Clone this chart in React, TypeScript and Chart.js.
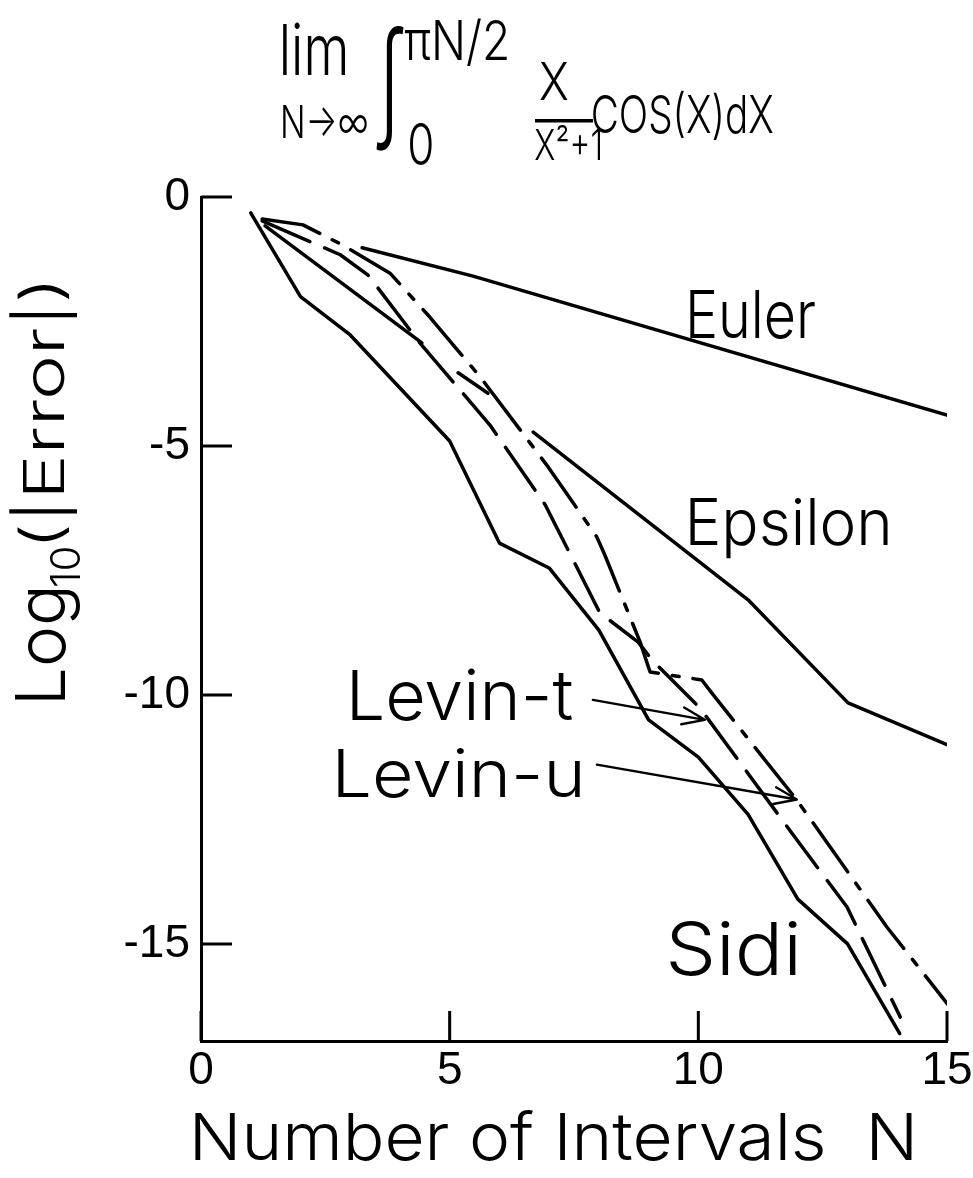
import React, { useEffect, useRef } from 'react';
import { Chart, registerables } from 'chart.js';

Chart.register(...registerables);

const FONT = '"Liberation Sans", Arial, "DejaVu Sans", sans-serif';
const LFONT = 'Inter, "Liberation Sans", "DejaVu Sans", sans-serif';
const LWEIGHT = '300';

// axis ticks
const xTicks = [0, 5, 10, 15];
const yTicks = [0, -5, -10, -15];

// Euler (solid)
const eulerN = [3.24, 5.47, 15.0];
const eulerLog = [-1.02, -1.59, -4.38];

// Epsilon (solid, with gaps where the pen lifted)
const epsilonN = [1.29, 4.44, 4.8, 5.17, 5.77, 6.2, 6.68, 11.0, 13.01, 15.0];
const epsilonLog = [-0.58, -2.93, null, -3.53, -3.94, null, -4.72, -8.09, -10.16, -11.0];

// Levin-t (long dashes)
const levinTN = [1.23, 2.8, 3.36, 4.4, 5.81, 6.92, 8.02, 8.79, 9.07, 10.03, 11.98, 12.99, 14.06];
const levinTLog = [-0.48, -1.16, -1.57, -2.93, -4.58, -6.18, -8.35, -8.94, -9.3, -10.26, -12.91, -14.26, -16.47];

// Levin-u (dash-dot)
const levinUN = [1.23, 2.05, 2.84, 3.8, 4.6, 5.61, 6.98, 7.96, 8.12, 8.83, 9.03, 10.07, 10.3, 11.98, 13.79, 15.02];
const levinULog = [-0.44, -0.56, -0.96, -1.53, -2.41, -3.61, -5.42, -6.83, -7.19, -8.94, -9.54, -9.7, -10.0, -12.11, -14.66, -16.22];

// Sidi (solid)
const sidiN = [1, 2, 3, 5, 6, 7, 8, 9, 10, 11, 12, 13, 14.05];
const sidiLog = [-0.32, -2.0, -2.77, -4.9, -6.95, -7.45, -8.7, -10.5, -11.25, -12.4, -14.1, -15.0, -16.8];

const Y_MIN = -16.95;

// annotation arrows (data units)
const arrowLevinT = { from: [7.88, -10.1], to: [10.13, -10.5] };
const arrowLevinU = { from: [7.96, -11.4], to: [11.98, -12.1] };

function pts(n: number[], v: (number | null)[]) {
  return n.map((x, i) => ({ x, y: v[i] }));
}

function fitText(
  ctx: CanvasRenderingContext2D,
  text: string,
  l: number,
  t: number,
  r: number,
  b: number,
  mode: 'base' | 'ink' = 'base',
  font: string = LFONT,
  weight: string = LWEIGHT
) {
  ctx.save();
  ctx.font = `${weight} 100px ${font}`;
  const m = ctx.measureText(text);
  const asc = m.actualBoundingBoxAscent;
  const desc = m.actualBoundingBoxDescent;
  const bl = m.actualBoundingBoxLeft;
  const br = m.actualBoundingBoxRight;
  const inkW = bl + br;
  const sx = (r - l) / inkW;
  let sy: number;
  let oy: number;
  if (mode === 'ink') {
    sy = (b - t) / (asc + desc);
    oy = t + asc * sy;
  } else {
    sy = (b - t) / asc;
    oy = b;
  }
  ctx.translate(l + bl * sx, oy);
  ctx.scale(sx, sy);
  ctx.textAlign = 'left';
  ctx.textBaseline = 'alphabetic';
  ctx.fillStyle = '#000';
  ctx.fillText(text, 0, 0);
  ctx.restore();
}

function drawArrow(ctx: CanvasRenderingContext2D, x1: number, y1: number, x2: number, y2: number) {
  ctx.save();
  ctx.strokeStyle = '#000';
  ctx.lineWidth = 2.4;
  ctx.lineCap = 'round';
  ctx.lineJoin = 'round';
  ctx.beginPath();
  ctx.moveTo(x1, y1);
  ctx.lineTo(x2, y2);
  const ang = Math.atan2(y2 - y1, x2 - x1);
  const len = 24;
  const spread = 0.36;
  ctx.moveTo(x2 - len * Math.cos(ang - spread), y2 - len * Math.sin(ang - spread));
  ctx.lineTo(x2, y2);
  ctx.lineTo(x2 - len * Math.cos(ang + spread), y2 - len * Math.sin(ang + spread));
  ctx.stroke();
  ctx.restore();
}

const decorPlugin = {
  id: 'decor',
  afterDraw(chart: any) {
    const ctx: CanvasRenderingContext2D = chart.ctx;
    const xs = chart.scales.x;
    const ys = chart.scales.y;
    ctx.save();
    // inward tick marks
    ctx.strokeStyle = '#000';
    ctx.lineWidth = 3;
    ctx.lineCap = 'butt';
    ctx.beginPath();
    ys.ticks.forEach((t: any) => {
      const py = ys.getPixelForValue(t.value);
      ctx.moveTo(ys.right, py);
      ctx.lineTo(ys.right + 31, py);
    });
    xs.ticks.forEach((t: any) => {
      const px = xs.getPixelForValue(t.value);
      ctx.moveTo(px, xs.top);
      ctx.lineTo(px, xs.top - 30);
    });
    ctx.stroke();

    // arrows
    const P = (p: number[]) => [xs.getPixelForValue(p[0]), ys.getPixelForValue(p[1])];
    const a1 = P(arrowLevinT.from), b1 = P(arrowLevinT.to);
    const a2 = P(arrowLevinU.from), b2 = P(arrowLevinU.to);
    drawArrow(ctx, a1[0], a1[1], b1[0], b1[1]);
    drawArrow(ctx, a2[0], a2[1], b2[0], b2[1]);

    // curve labels
    fitText(ctx, 'Euler', 690, 290, 815, 338);
    fitText(ctx, 'Epsilon', 690, 497, 888, 545);
    fitText(ctx, 'Levin-t', 352, 668, 572, 720);
    fitText(ctx, 'Levin-u', 338, 748, 580, 797);
    fitText(ctx, 'Sidi', 670, 920, 797, 975);

    // x axis title
    fitText(ctx, 'Number of Intervals  N', 195, 1110, 912, 1160);

    // y axis title (rotated)
    ctx.save();
    ctx.rotate(-Math.PI / 2);
    fitText(ctx, 'Log', -700, 15, -590, 65);
    fitText(ctx, '10', -586, 50, -548, 80);
    fitText(ctx, '(|Error|)', -542, 10, -285, 78, 'ink');
    ctx.restore();

    // formula title
    fitText(ctx, 'lim', 283, 22, 345, 75);
    fitText(ctx, 'N\u2192\u221E', 283, 105, 367, 138);
    fitText(ctx, '\u222B', 376, 25, 404, 150, 'ink', LFONT, '300');
    fitText(ctx, '\u03C0N/2', 405, 18, 507, 60);
    fitText(ctx, '0', 410, 122, 432, 165);
    fitText(ctx, 'X', 540, 62, 568, 100);
    ctx.fillStyle = '#000';
    ctx.fillRect(535, 119, 58, 3.5);
    fitText(ctx, 'X\u00B2+1', 535, 125, 600, 160);
    fitText(ctx, 'COS(X)dX', 593, 90, 773, 140, 'ink');
    ctx.restore();
  },
};

export default function App() {
  const ref = useRef<HTMLCanvasElement | null>(null);

  useEffect(() => {
    if (!ref.current) return;
    const common = {
      borderColor: '#000',
      borderWidth: 3.5,
      pointRadius: 0,
      tension: 0,
      fill: false,
      spanGaps: false,
      borderCapStyle: 'round' as const,
      borderJoinStyle: 'round' as const,
    };
    const chart = new Chart(ref.current, {
      type: 'line',
      data: {
        datasets: [
          { label: 'Euler', data: pts(eulerN, eulerLog), ...common },
          { label: 'Epsilon', data: pts(epsilonN, epsilonLog), ...common },
          { label: 'Levin-t', data: pts(levinTN, levinTLog), ...common, borderDash: [52, 16] },
          { label: 'Levin-u', data: pts(levinUN, levinULog), ...common, borderDash: [60, 14, 7, 14] },
          { label: 'Sidi', data: pts(sidiN, sidiLog), ...common },
        ],
      },
      options: {
        animation: false,
        responsive: false,
        devicePixelRatio: 1,
        layout: { padding: { top: 197, right: 26, bottom: 0, left: 0 } },
        plugins: {
          legend: { display: false },
          tooltip: { enabled: false },
          title: { display: false },
        },
        scales: {
          x: {
            type: 'linear',
            min: 0,
            max: 15,
            grid: { display: false, drawTicks: false },
            border: { display: true, color: '#000', width: 3 },
            ticks: {
              color: '#000',
              font: { family: FONT, size: 46 },
              padding: 3,
              maxRotation: 0,
              autoSkip: false,
              callback: (v: any) => String(v),
            },
            afterBuildTicks: (ax: any) => {
              ax.ticks = xTicks.map((v) => ({ value: v }));
            },
            afterFit: (s: any) => {
              s.height = 137;
              s.paddingLeft = 0;
              s.paddingRight = 0;
              s.paddingTop = 0;
              s.paddingBottom = 0;
            },
          },
          y: {
            type: 'linear',
            min: Y_MIN,
            max: 0,
            grid: { display: false, drawTicks: false },
            border: { display: true, color: '#000', width: 3 },
            ticks: {
              color: '#000',
              font: { family: FONT, size: 46 },
              padding: 11,
              autoSkip: false,
              callback: (v: any) => String(v),
            },
            afterBuildTicks: (ax: any) => {
              ax.ticks = yTicks.map((v) => ({ value: v }));
            },
            afterFit: (s: any) => {
              s.width = 201;
              s.paddingLeft = 0;
              s.paddingRight = 0;
              s.paddingTop = 0;
              s.paddingBottom = 0;
            },
          },
        },
      } as any,
      plugins: [decorPlugin],
    });
    return () => chart.destroy();
  }, []);

  return (
    <div style={{ position: 'absolute', left: 0, top: 0, width: 973, height: 1178, background: '#fff' }}>
      <canvas ref={ref} width={973} height={1178} style={{ display: 'block', width: 973, height: 1178 }} />
    </div>
  );
}
